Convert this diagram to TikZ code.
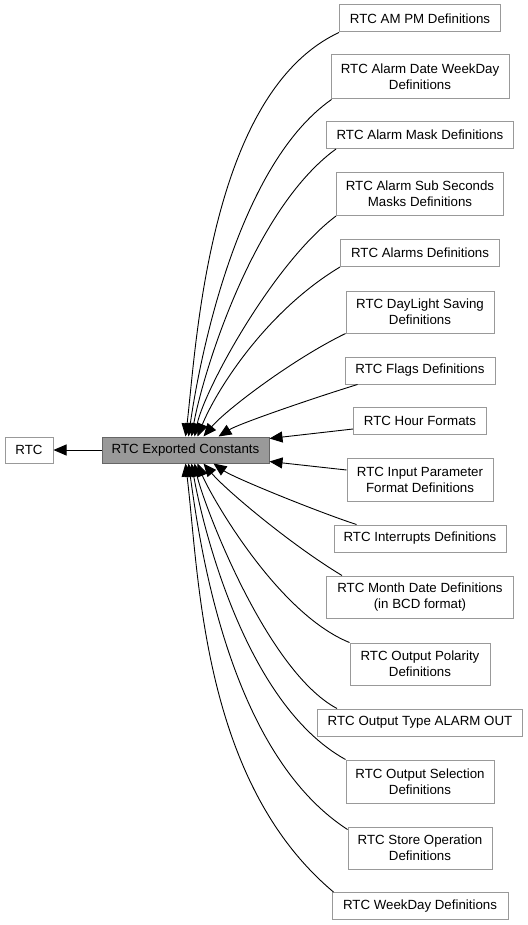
\documentclass[tikz,border=0pt]{standalone}
\usepackage{fontspec}
\setmainfont{Liberation Sans}
\usetikzlibrary{arrows.meta}
\definecolor{boxborder}{HTML}{999999}
\definecolor{curborder}{HTML}{666666}
\definecolor{curfill}{HTML}{999999}
\begin{document}
\begin{tikzpicture}[x=1pt,y=1pt,
  box/.style={draw=boxborder, line width=1pt, fill=white, align=center, inner sep=0pt,
    font=\fontsize{13.3}{16}\selectfont, text=black},
  cur/.style={box, draw=curborder, fill=curfill},
  sz/.style 2 args={minimum width=#1pt, minimum height=#2pt},
  edge/.style={draw=black, line width=0.9pt, -{Triangle[length=13pt,width=11pt]}}]
\useasboundingbox[fill=white] (0,0) rectangle (527,-925);

\node[box, sz={48}{26}] (rtc) at (29,-450) {RTC};
\node[cur, sz={167}{26}] (exp) at (185.5,-450) {RTC Exported Constants};

\node[box, sz={161}{27}] (ampm) at (420,-18.5) {RTC AM PM Definitions};
\node[box, sz={178}{44}] (date) at (420,-77) {RTC Alarm Date WeekDay\\Definitions};
\node[box, sz={187}{27}] (mask) at (420,-135) {RTC Alarm Mask Definitions};
\node[box, sz={167}{43}] (subsec) at (420,-194) {RTC Alarm Sub Seconds\\Masks Definitions};
\node[box, sz={159}{27}] (alarms) at (420,-253) {RTC Alarms Definitions};
\node[box, sz={148}{42}] (daylight) at (420,-312) {RTC DayLight Saving\\Definitions};
\node[box, sz={150}{27}] (flags) at (420,-370.5) {RTC Flags Definitions};
\node[box, sz={133}{27}] (hour) at (420,-420.5) {RTC Hour Formats};
\node[box, sz={146}{43}] (input) at (420,-479.5) {RTC Input Parameter\\Format Definitions};
\node[box, sz={172}{27}] (interrupts) at (420,-538.5) {RTC Interrupts Definitions};
\node[box, sz={187}{42}] (month) at (420,-597) {RTC Month Date Definitions\\(in BCD format)};
\node[box, sz={140}{42}] (polarity) at (420,-664) {RTC Output Polarity\\Definitions};
\node[box, sz={205}{27}] (type) at (420,-722.5) {RTC Output Type ALARM OUT};
\node[box, sz={148}{43}] (selection) at (420,-781.5) {RTC Output Selection\\Definitions};
\node[box, sz={144}{42}] (store) at (420,-848) {RTC Store Operation\\Definitions};
\node[box, sz={176}{27}] (weekday) at (420,-906) {RTC WeekDay Definitions};

\draw[edge] (exp) -- (rtc);

\draw[edge] (ampm.south west) .. controls +(205:145) and +(83:87) .. ([xshift=84pt]exp.north west);
\draw[edge] ([xshift=1pt]date.south west) .. controls +(215:118) and +(82:69) .. ([xshift=87pt]exp.north west);
\draw[edge] ([xshift=10pt]mask.south west) .. controls +(216:104) and +(80:61) .. ([xshift=90pt]exp.north west);
\draw[edge] (subsec.south west) .. controls +(217:79) and +(78:48) .. ([xshift=93pt]exp.north west);
\draw[edge] (alarms.south west) .. controls +(211:88) and +(68:48) .. ([xshift=96pt]exp.north west);
\draw[edge] (daylight.south west) .. controls +(206:60) and +(50:34) .. ([xshift=102pt]exp.north west);
\draw[edge] ([xshift=13pt]flags.south west) .. controls +(197:40) and +(32:25) .. ([xshift=117pt]exp.north west);
\draw[edge] ([yshift=-8.5pt]hour.west) -- ([yshift=-2pt]exp.north east);
\draw[edge] ([yshift=9.5pt]input.west) -- ([yshift=2pt]exp.south east);
\draw[edge] ([xshift=23pt]interrupts.north west) .. controls +(162:40) and +(-35:25) .. ([xshift=112pt]exp.south west);
\draw[edge] ([xshift=16pt]month.north west) .. controls +(149:60) and +(-50:34) .. ([xshift=102pt]exp.south west);
\draw[edge] (polarity.north west) .. controls +(158:79) and +(-68:32) .. ([xshift=96pt]exp.south west);
\draw[edge] ([xshift=20pt]type.north west) .. controls +(152:81) and +(-78:38) .. ([xshift=93pt]exp.south west);
\draw[edge] (selection.north west) .. controls +(151:117) and +(-80:57) .. ([xshift=90pt]exp.south west);
\draw[edge] ([yshift=-3pt]store.north west) .. controls +(147:143) and +(-82:78) .. ([xshift=87pt]exp.south west);
\draw[edge] ([xshift=2pt]weekday.north west) .. controls +(140:173) and +(-83:112) .. ([xshift=84pt]exp.south west);
\end{tikzpicture}
\end{document}
